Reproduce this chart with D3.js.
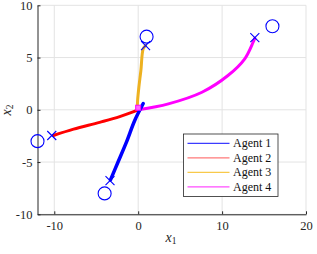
<!DOCTYPE html>
<html><head><meta charset="utf-8">
<script src="https://cdn.jsdelivr.net/npm/d3@7"></script>
<style>body{margin:0;background:#fff}svg{display:block}</style>
</head><body>
<script>
// ---- data ----
const agentNames = ["Agent 1", "Agent 2", "Agent 3", "Agent 4"];
const agentColors = ["#0000ff", "#ff0000", "#edb120", "#ff00ff"];
const legendColors = ["#3c3cff", "#ff7878", "#f8c94a", "#ff4dff"];
// trajectories (x1, x2)
const agent1X = [-3.3, -2.4, -1.4, -0.4, 0.6];
const agent1Y = [-6.7, -5.0, -3.1, -1.0, 0.6];
const agent2X = [-10.1, -7.7, -4.6, -2.2, 0.0];
const agent2Y = [-2.46, -1.85, -1.2, -0.65, 0.0];
const agent3X = [-0.1, -0.07, 0.08, 0.32, 0.6, 0.88];
const agent3Y = [0.2, 0.89, 2.16, 3.76, 5.84, 6.15];
const agent4X = [0.0, 3.6, 7.6, 10.7, 12.7, 13.7, 13.9];
const agent4Y = [0.0, 0.57, 1.68, 3.28, 4.88, 6.47, 6.85];
// final positions (x markers) and targets (circles)
const finalX = [-3.36, -10.3, 0.88, 13.9];
const finalY = [-6.77, -2.46, 6.15, 6.9];
const targetX = [-4, -12, 1, 16];
const targetY = [-8, -3, 7, 8];
const xTicks = [-10, 0, 10, 20];
const yTicks = [-10, -5, 0, 5, 10];

const W = 317, H = 254;
const svg = d3.select("body").append("svg").attr("width", W).attr("height", H);
const x = d3.scaleLinear().domain([-12, 20]).range([37.5, 306]);
const y = d3.scaleLinear().domain([-10, 10]).range([214.3, 5.3]);
const font = "'Liberation Serif', 'DejaVu Serif', serif";

// grid
const g = svg.append("g");
g.selectAll(".gx").data(xTicks).join("line")
  .attr("x1", d => x(d)).attr("x2", d => x(d)).attr("y1", y(-10)).attr("y2", y(10))
  .attr("stroke", "#e3e3e3").attr("stroke-width", 1);
g.selectAll(".gy").data(yTicks).join("line")
  .attr("y1", d => y(d)).attr("y2", d => y(d)).attr("x1", x(-12)).attr("x2", x(20))
  .attr("stroke", "#e3e3e3").attr("stroke-width", 1);

// axes
const fmt = d => String(d);
const xa = svg.append("g").attr("transform", `translate(0,${y(-10)})`)
  .call(d3.axisBottom(x).tickValues(xTicks).tickFormat(fmt).tickSize(-3).tickPadding(7).tickSizeOuter(0));
const ya = svg.append("g").attr("transform", `translate(${x(-12)},0)`)
  .call(d3.axisLeft(y).tickValues(yTicks).tickFormat(fmt).tickSize(-3).tickPadding(5).tickSizeOuter(0));
[xa, ya].forEach(a => {
  a.select(".domain").attr("stroke", "#262626").attr("stroke-width", 1);
  a.selectAll(".tick line").attr("stroke", "#262626");
  a.selectAll(".tick text").attr("font-family", font).attr("font-size", 12.5).attr("fill", "#262626");
});

// trajectories
const line = d3.line().x(d => x(d[0])).y(d => y(d[1])).curve(d3.curveCatmullRom);
const trajs = [
  d3.zip(agent1X, agent1Y), d3.zip(agent2X, agent2Y),
  d3.zip(agent3X, agent3Y), d3.zip(agent4X, agent4Y)
];
const order = [1, 2, 3, 0];
order.forEach(i => {
  svg.append("path").attr("d", line(trajs[i])).attr("fill", "none")
    .attr("stroke", agentColors[i]).attr("stroke-width", i === 0 ? 3.5 : 3)
    .attr("stroke-linecap", "round").attr("stroke-linejoin", "round");
});
// small start square (agent 4)
svg.append("rect").attr("x", x(0) - 2.5).attr("y", y(0.2) - 2.5).attr("width", 5).attr("height", 5)
  .attr("fill", "#ff66ff").attr("stroke", "#ff00ff").attr("stroke-width", 1);

// markers
const mk = svg.append("g").attr("stroke", "#0000ff").attr("fill", "none").attr("stroke-width", 1.1);
d3.range(4).forEach(i => {
  const cx = x(finalX[i]), cy = y(finalY[i]), s = 4.5;
  mk.append("path").attr("d", `M${cx - s},${cy - s}L${cx + s},${cy + s}M${cx - s},${cy + s}L${cx + s},${cy - s}`);
  mk.append("circle").attr("cx", x(targetX[i])).attr("cy", y(targetY[i])).attr("r", 6.5);
});

// legend
const lg = svg.append("g");
lg.append("rect").attr("x", 183.5).attr("y", 134).attr("width", 94.5).attr("height", 62.5)
  .attr("fill", "#fff").attr("stroke", "#262626").attr("stroke-width", 0.8);
agentNames.forEach((n, i) => {
  const yy = 143.3 + i * 14.5;
  lg.append("line").attr("x1", 187.5).attr("x2", 229.5).attr("y1", yy).attr("y2", yy)
    .attr("stroke", legendColors[i]).attr("stroke-width", 1.3);
  lg.append("text").attr("x", 233).attr("y", yy + 4).attr("font-family", font).attr("font-size", 12)
    .attr("fill", "#111").text(n);
});

// axis labels
const xl = svg.append("text").attr("x", 171).attr("y", 242).attr("text-anchor", "middle")
  .attr("font-family", font).attr("font-size", 14).attr("fill", "#262626");
xl.append("tspan").attr("font-style", "italic").text("x");
xl.append("tspan").attr("font-size", 9.5).attr("dy", 2).text("1");
const yl = svg.append("text").attr("transform", `translate(11,110) rotate(-90)`).attr("text-anchor", "middle")
  .attr("font-family", font).attr("font-size", 14).attr("fill", "#262626");
yl.append("tspan").attr("font-style", "italic").text("x");
yl.append("tspan").attr("font-size", 9.5).attr("dy", 2).text("2");
</script>
</body></html>
